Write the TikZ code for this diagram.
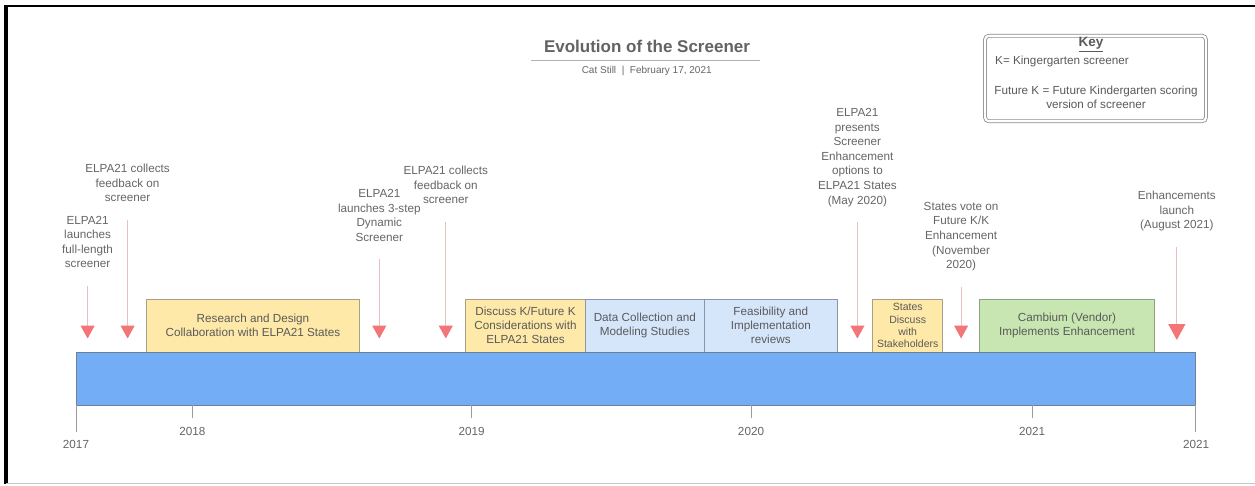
\documentclass[tikz,border=0pt]{standalone}
\usepackage{fontspec}
\setmainfont{Liberation Sans}
\usepackage{tikz}
\usetikzlibrary{arrows.meta,positioning}

\definecolor{labelgray}{HTML}{666666}
\definecolor{boxtext}{HTML}{5A5A5A}
\definecolor{titlegray}{HTML}{636363}
\definecolor{barblue}{HTML}{72ADF6}
\definecolor{baredge}{HTML}{6E7F96}
\definecolor{phaseyellow}{HTML}{FFE9A8}
\definecolor{yellowedge}{HTML}{A8A088}
\definecolor{phaseblue}{HTML}{D5E6FB}
\definecolor{blueedge}{HTML}{8A96A6}
\definecolor{phasegreen}{HTML}{C8E6B1}
\definecolor{greenedge}{HTML}{8FA083}
\definecolor{shaftpink}{HTML}{E9BFC0}
\definecolor{headred}{HTML}{F37577}
\definecolor{tickgray}{HTML}{9A9A9A}
\definecolor{keygray}{HTML}{8C8C8C}

\begin{document}
\begin{tikzpicture}[x=1pt,y=-1pt]
\tikzset{
	event label/.style = {align=center, inner sep=0, text=labelgray, font=\fontsize{11.7}{14.6}\selectfont, execute at end node=\strut},
	phase box/.style = {rectangle, inner sep=2, outer sep=0, minimum height=52.5, align=center, anchor=south west, line width=0.8, text=boxtext, font=\fontsize{11.7}{14}\selectfont},
	yellow box/.style = {phase box, fill=phaseyellow, draw=yellowedge},
	blue box/.style = {phase box, fill=phaseblue, draw=blueedge},
	green box/.style = {phase box, fill=phasegreen, draw=greenedge},
	year label/.style = {inner sep=0, text=labelgray, font=\fontsize{11.7}{14}\selectfont},
	tick/.style = {draw=tickgray, line width=1},
	pointer/.style = {draw=shaftpink, line width=1.1, shorten <=13.4, -{Triangle[width=14pt,length=13pt,color=headred]}},
	key text/.style = {inner sep=0, text=boxtext, font=\fontsize{11.7}{14.6}\selectfont},
}

\useasboundingbox (0,0) rectangle (1255,485);
\fill[white] (0,0) rectangle (1255,485);
\draw[black, line width=2] (5,5.8) -- (1255,5.8);
\draw[black, line width=3.5] (6,5) -- (6,483.5);
\draw[black!22, line width=1] (6,483) -- (1255,483);

\node (title)[inner sep=0, text=titlegray, font=\fontsize{17}{20}\selectfont\bfseries] at (647,46.5) {Evolution of the Screener};
\draw[black!30, line width=1.3] (531,60.7) -- (760,60.7);
\node (sub)[inner sep=0, text=labelgray, font=\fontsize{10}{12}\selectfont] at (646.7,70.5) {Cat Still \ | \ February 17, 2021};

\node (key)[draw=keygray, double=white, double distance=2.2pt, line width=0.8, rounded corners=4pt, minimum width=221, minimum height=85.5] at (1095.5,78.5) {};
\node (k0)[key text, font=\fontsize{13.5}{15}\selectfont\bfseries] at (1091,44.3) {\underline{Key}};
\node (k1)[key text, anchor=west] at (995,61.5) {K= Kingergarten screener};
\node (k2)[key text, align=center] at (1096,97.5) {Future K = Future Kindergarten scoring\\version of screener};

\node (p1)[yellow box, minimum width=212.6] at (146.7,352) {Research and Design\\Collaboration with ELPA21 States};
\node (p2)[yellow box, minimum width=119.6] at (465.7,352) {Discuss K/Future K\\Considerations with\\ELPA21 States};
\node (p3)[blue box, minimum width=119, right=0pt of p2] {Data Collection and\\Modeling Studies};
\node (p4)[blue box, minimum width=133, right=0pt of p3] {Feasibility and\\Implementation\\reviews};
\node (p5)[yellow box, minimum width=70, font=\fontsize{10.5}{12.3}\selectfont] at (872.7,352) {States\\Discuss\\with\\Stakeholders};
\node (p6)[green box, minimum width=175.4] at (979.3,352) {Cambium (Vendor)\\Implements Enhancement};

\node (bar)[draw=baredge, fill=barblue, line width=0.8, inner sep=0, outer sep=0, anchor=north west, minimum width=1119.7, minimum height=53] at (76,352) {};

\node (y0)[year label] at (76,444) {2017};
\node (y5)[year label] at (1196,444.5) {2021};
\draw[tick] (bar.south west) -- ++(0,27);
\draw[tick] (bar.south east) -- ++(0,27);
\foreach \x/\yr [count=\i] in {192.3/2018,471.7/2019,751/2020,1032/2021}{
	\node (y\i)[year label] at (\x,431) {\yr};
	\draw[tick] (y\i |- bar.south) -- ++(0,13);
}

\node (l1)[event label] at (87.6,244) {ELPA21\\launches\\full-length\\screener};
\node (l2)[event label] at (127.6,185) {ELPA21 collects\\feedback on\\screener};
\node (l3)[event label] at (379.3,217.5) {ELPA21\\launches 3-step\\Dynamic\\Screener};
\node (l4)[event label] at (445.8,187) {ELPA21 collects\\feedback on\\screener};
\node (l5)[event label] at (857.4,158.5) {ELPA21\\presents\\Screener\\Enhancement\\options to\\ELPA21 States\\(May 2020)};
\node (l6)[event label] at (961.1,237.5) {States vote on\\Future K/K\\Enhancement\\(November\\2020)};
\node (l7)[event label] at (1176.8,212) {Enhancements\\launch\\(August 2021)};

\coordinate (tips) at (0,338.5);
\foreach \i in {1,...,6}
	\draw[pointer] (l\i.south) -- (l\i.south |- tips);
\draw[pointer, -{Triangle[width=17pt,length=16pt,color=headred]}] (l7.south) -- ([yshift=-1.5]l7.south |- tips);

\end{tikzpicture}
\end{document}
